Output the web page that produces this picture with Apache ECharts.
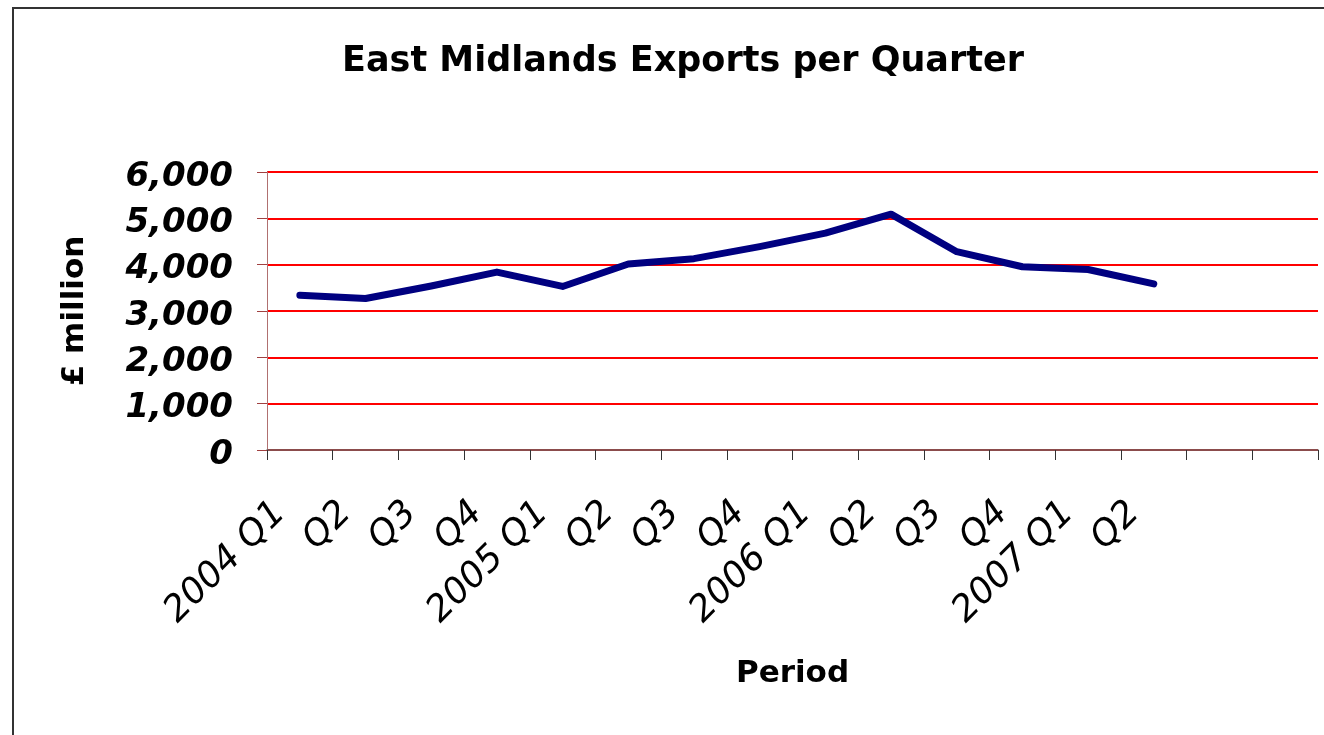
<!DOCTYPE html>
<html>
<head>
<meta charset="utf-8">
<script src="https://cdn.jsdelivr.net/npm/echarts@6/dist/echarts.min.js"></script>
<style>
html,body{margin:0;padding:0;background:#fff;}
#chart{width:1324px;height:735px;}
</style>
</head>
<body>
<div id="chart"></div>
<script>
const titleText = 'East Midlands Exports per Quarter';
const categories = ['2004 Q1','Q2','Q3','Q4','2005 Q1','Q2','Q3','Q4','2006 Q1','Q2','Q3','Q4','2007 Q1','Q2','',''];
const exportsValues = [3340, 3270, 3540, 3840, 3530, 4015, 4130, 4390, 4680, 5090, 4280, 3955, 3895, 3585];
const yTickLabels = ['0','1,000','2,000','3,000','4,000','5,000','6,000'];
const yAxisName = '£ million';
const xAxisName = 'Period';

const chart = echarts.init(document.getElementById('chart'), null, {renderer:'canvas'});
chart.setOption({
  animation:false,
  backgroundColor:'#ffffff',
  title:{
    text:titleText,
    left:678, top:39, textAlign:'center',
    textStyle:{fontFamily:'DejaVu Sans', fontWeight:'bold', fontSize:35, color:'#000'}
  },
  graphic:[{
    type:'rect', silent:true, z:-1,
    shape:{x:13, y:8, width:1400, height:800},
    style:{fill:'none', stroke:'#333', lineWidth:2}
  }],
  grid:{left:267, right:6, top:172, bottom:285, containLabel:false},
  xAxis:{
    type:'category', data:categories, boundaryGap:true,
    name:xAxisName, nameLocation:'middle', nameGap:208,
    nameTextStyle:{fontFamily:'DejaVu Sans', fontWeight:'bold', fontSize:31, color:'#000'},
    axisLine:{lineStyle:{color:'#666', width:1.5}},
    axisTick:{show:true, length:10, interval:0, lineStyle:{color:'#333'}},
    axisLabel:{interval:0, rotate:45, margin:38, padding:[0,28,0,0],
      fontFamily:'DejaVu Sans', fontStyle:'italic', fontSize:36, color:'#000'},
    splitLine:{show:false}
  },
  yAxis:{
    type:'value', min:0, max:6000, interval:1000,
    name:yAxisName, nameLocation:'middle', nameGap:177, nameRotate:90,
    nameTextStyle:{fontFamily:'DejaVu Sans', fontWeight:'bold', fontSize:31, color:'#000'},
    axisLine:{show:true, lineStyle:{color:'#b07070', width:1}},
    axisTick:{show:true, length:10, lineStyle:{color:'#a04040'}},
    axisLabel:{margin:34, color:'#000',
      formatter:function(v){return '{t|' + yTickLabels[Math.round(v/1000)] + '}';},
      rich:{t:{fontFamily:'DejaVu Sans', fontWeight:'bold', fontStyle:'italic', fontSize:34, color:'#000',
        padding:[10,0,0,0]}}},
    splitLine:{show:true, lineStyle:{color:'#ff0000', width:2}}
  },
  series:[{
    type:'line', data:exportsValues, symbol:'none', smooth:false,
    lineStyle:{color:'#000080', width:7, cap:'round', join:'round'},
    z:3
  }]
});
</script>
</body>
</html>
